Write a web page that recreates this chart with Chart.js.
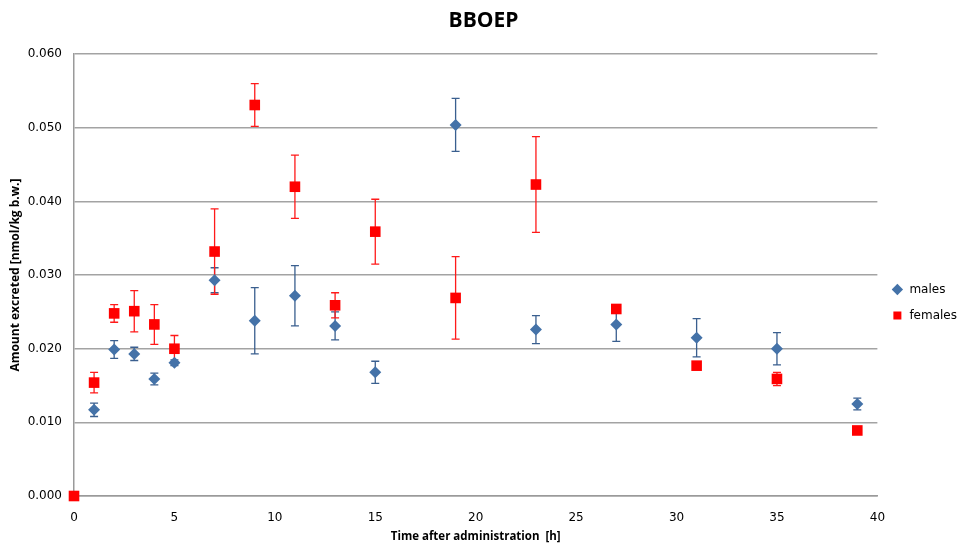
<!DOCTYPE html>
<html>
<head>
<meta charset="utf-8">
<script src="https://cdn.jsdelivr.net/npm/chart.js@4.4.0/dist/chart.umd.min.js"></script>
<style>
  html, body { margin: 0; padding: 0; background: #fff; }
  #wrap { width: 967px; height: 545px; }
</style>
</head>
<body>
<div id="wrap"><canvas id="chart" width="967" height="545"></canvas></div>
<script>
// time points (h)
var hoursMales = [1, 2, 3, 4, 5, 7, 9, 11, 13, 15, 19, 23, 27, 31, 35, 39];
var hoursFemales = [0, 1, 2, 3, 4, 5, 7, 9, 11, 13, 15, 19, 23, 27, 31, 35, 39];

// amount excreted [nmol/kg b.w.]
var males = [0.0117, 0.0199, 0.0193, 0.0159, 0.0181, 0.0293, 0.0238, 0.0272, 0.0231, 0.0168, 0.0504, 0.0226, 0.0233, 0.0215, 0.0200, 0.0125];
var malesErr = [0.0009, 0.0012, 0.0009, 0.0008, 0.0004, 0.0017, 0.0045, 0.0041, 0.0019, 0.0015, 0.0036, 0.0019, 0.0023, 0.0026, 0.0022, 0.0008];

var females = [0.0, 0.0154, 0.0248, 0.0251, 0.0233, 0.0200, 0.0332, 0.0531, 0.0420, 0.0259, 0.0359, 0.0269, 0.0423, 0.0254, 0.0177, 0.0159, 0.0089];
var femalesErr = [0, 0.0014, 0.0012, 0.0028, 0.0027, 0.0018, 0.0058, 0.0029, 0.0043, 0.0017, 0.0044, 0.0056, 0.0065, 0.0005, 0.0003, 0.0009, 0.0002];

var yTicks = [0, 0.01, 0.02, 0.03, 0.04, 0.05, 0.06];

function toPoints(xs, ys, errs) {
  return xs.map(function (x, i) { return { x: x, y: ys[i], err: errs[i] }; });
}

// error bars, drawn under the markers
var errorBars = {
  id: 'errorBars',
  beforeDatasetsDraw: function (chart) {
    var ctx = chart.ctx;
    var xs = chart.scales.x, ys = chart.scales.y;
    chart.data.datasets.forEach(function (ds) {
      ctx.save();
      ctx.strokeStyle = ds.errColor;
      ctx.lineWidth = 1.3;
      ds.data.forEach(function (p) {
        if (!p.err) return;
        var px = xs.getPixelForValue(p.x);
        var top = ys.getPixelForValue(p.y + p.err);
        var bot = ys.getPixelForValue(p.y - p.err);
        ctx.beginPath();
        ctx.moveTo(px, top); ctx.lineTo(px, bot);
        ctx.moveTo(px - 4, top); ctx.lineTo(px + 4, top);
        ctx.moveTo(px - 4, bot); ctx.lineTo(px + 4, bot);
        ctx.stroke();
      });
      ctx.restore();
    });
  }
};

// push the legend a bit lower, like the original
var legendShift = {
  id: 'legendShift',
  afterLayout: function (chart) {
    chart.legend.top += 30;
    chart.legend.bottom += 30;
  }
};

var chart = new Chart(document.getElementById('chart'), {
  type: 'scatter',
  data: {
    datasets: [{
      label: 'males',
      data: toPoints(hoursMales, males, malesErr),
      pointStyle: 'rectRot',
      pointRadius: 6,
      pointHoverRadius: 6,
      backgroundColor: '#4472a8',
      borderColor: '#4472a8',
      borderWidth: 0,
      clip: false,
      errColor: '#3a5f8f'
    }, {
      label: 'females',
      data: toPoints(hoursFemales, females, femalesErr),
      pointStyle: 'rect',
      pointRadius: 7.5,
      pointHoverRadius: 7.5,
      backgroundColor: '#ff0000',
      borderColor: '#ff0000',
      borderWidth: 0,
      clip: false,
      errColor: '#ff1a1a'
    }]
  },
  options: {
    responsive: false,
    animation: false,
    layout: { padding: { top: 0, right: 0, bottom: 0, left: 0 } },
    plugins: {
      title: {
        display: true,
        text: 'BBOEP',
        color: '#000',
        font: { family: 'Open Sans', size: 21, weight: 'bold' },
        padding: { top: 8, bottom: 21 }
      },
      legend: {
        position: 'right',
        labels: {
          usePointStyle: true,
          color: '#000',
          font: { family: 'DejaVu Sans', size: 12 },
          padding: 14,
          boxHeight: 8
        }
      },
      tooltip: { enabled: false }
    },
    scales: {
      x: {
        type: 'linear',
        min: 0,
        max: 40,
        ticks: { stepSize: 5, color: '#000', font: { family: 'DejaVu Sans', size: 12 }, padding: 15 },
        grid: { display: false, drawTicks: false },
        border: { display: true, color: '#9a9a9a', width: 1.5 },
        title: {
          display: true,
          text: 'Time after administration  [h]',
          color: '#000',
          font: { family: 'Open Sans', size: 11.5, weight: 'bold' },
          padding: { top: 2, bottom: 1 }
        },
        afterFit: function (s) { s.height = 49; }
      },
      y: {
        min: 0,
        max: 0.06,
        afterBuildTicks: function (s) { s.ticks = yTicks.map(function (v) { return { value: v }; }); },
        ticks: {
          color: '#000',
          font: { family: 'DejaVu Sans', size: 12 },
          padding: 12,
          callback: function (v) { return v.toFixed(3); }
        },
        grid: { color: '#a3a3a3', lineWidth: 1.5, drawTicks: false },
        border: { display: true, color: '#9a9a9a', width: 1.5 },
        title: {
          display: true,
          text: 'Amount excreted [nmol/kg b.w.]',
          color: '#000',
          font: { family: 'Open Sans', size: 12, weight: 'bold' },
          padding: { top: 8, bottom: 4 }
        },
        afterFit: function (s) { s.width = 74; }
      }
    }
  },
  plugins: [errorBars, legendShift]
});
</script>
</body>
</html>
